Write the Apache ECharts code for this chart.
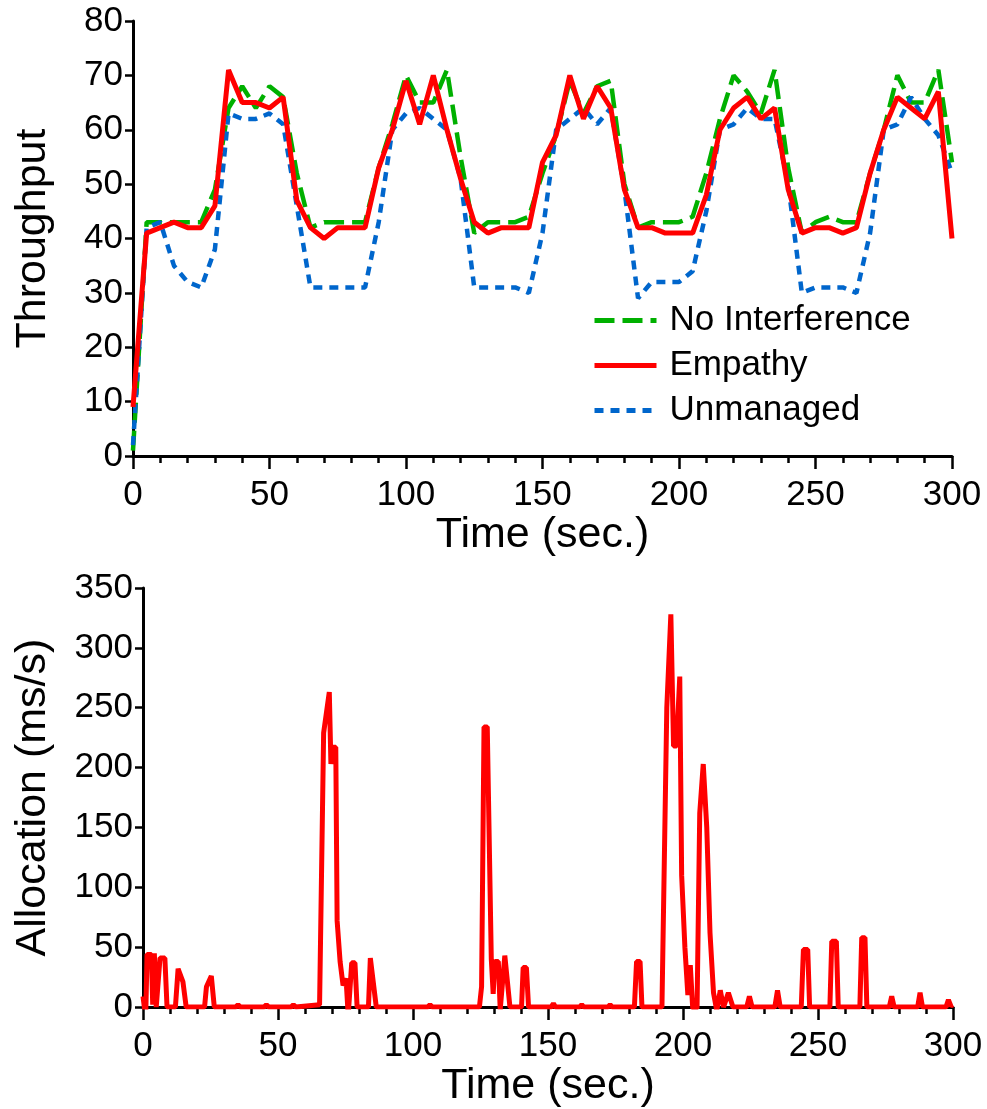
<!DOCTYPE html>
<html>
<head>
<meta charset="utf-8">
<script src="https://cdn.jsdelivr.net/npm/echarts@6/dist/echarts.min.js"></script>
<style>
  html, body { margin: 0; padding: 0; background: #fff; }
  #chart { width: 987px; height: 1109px; }
</style>
</head>
<body>
<div id="chart"></div>
<script>
// ---- Top chart: throughput (sampled every 5 s) ----
const topTimes = [0,5,10,15,20,25,30,35,40,45,50,55,60,65,70,75,80,85,90,95,100,105,110,115,120,125,130,135,140,145,150,155,160,165,170,175,180,185,190,195,200,205,210,215,220,225,230,235,240,245,250,255,260,265,270,275,280,285,290,295,300];
const noInterference = [1,43,43,43,43,43,49,64,68,64,68,66,52,42,43,43,43,43,53,61,70,65,65,71,55,41,43,43,43,44,52,59,69,63,68,69,50,42,43,43,43,44,52,62,70,67,63,71,53,41,43,44,43,43,52,60,70,65,65,71,54];
const empathy = [9,41,42,43,42,42,46,71,65,65,64,66,47,42,40,42,42,42,53,60,69,61,70,60,51,43,41,42,42,42,54,59,70,62,68,64,49,42,42,41,41,41,48,60,64,66,62,64,49,41,42,42,41,42,52,60,66,64,62,67,40];
const unmanaged = [2,42,43,35,32,31,38,63,62,62,63,61,46,31,31,31,31,31,43,60,63,64,62,60,51,31,31,31,31,30,41,60,62,64,61,64,49,29,32,32,32,34,45,60,61,64,62,62,50,30,31,31,31,30,41,60,61,66,62,59,52];

// ---- Bottom chart: allocation (irregular samples) ----
const allocTimes = [0,1,1.5,3.1,3.6,4.2,4.9,6.3,8.1,8.9,12,13,14.8,16,22.8,23.5,25.3,26.4,34.3,35.2,36.1,44.8,45.7,46.6,54.8,55.7,56.6,65.4,66.9,69,69.6,70.4,71.4,71.9,73,74.1,75.2,76,77.3,78.5,79.3,83.5,84.2,86.4,105.4,106.3,107.2,124.6,125.4,126.3,127.5,129,129.7,130.3,131.6,132.3,134,135.9,140.2,140.8,142,142.8,151.2,152,152.8,161.7,162.5,163.3,172.2,173,173.8,182,182.8,184.1,184.8,192.2,194,195.5,196.5,197.6,198.8,199.5,200.7,201.8,202.7,203.6,205.2,206.2,207.5,208.8,210,211.3,212.5,213.8,215,216.8,218.5,223.6,224.6,225.6,234,235,236,243.8,244.6,246.2,246.9,254.4,255.1,256.8,257.5,265.5,266.2,267.4,268.1,276.4,277.3,278.2,286.9,287.8,288.7,297.4,298.3,299.2,300];
const allocValues = [9,-9,44,44,2,45,0,41,41,0,0,32,21,0,0,17,26,0,0,2,0,0,2,0,0,2,0,2,229,263,203,217,217,72,38,18,24,-7,37,37,0,0,41,0,0,2,0,0,17,234,234,40,11,38,38,-2,43,0,0,33,33,0,0,3,0,0,2,0,0,2,0,0,38,38,0,0,250,328,218,218,276,110,50,10,35,-1,-1,162,203,150,62,12,-3,14,0,12,0,0,9,0,0,14,0,0,48,48,0,0,55,55,0,0,58,58,0,0,9,0,0,12,0,0,6,1,2];

// ---- Axis ticks ----
const xTicks = ['0','50','100','150','200','250','300'];
const topYTicks = ['0','10','20','30','40','50','60','70','80'];
const bottomYTicks = ['0','50','100','150','200','250','300','350'];

const seriesNames = ['No Interference', 'Empathy', 'Unmanaged'];

function pairs(xs, ys) { return xs.map((x, i) => [x, ys[i]]); }

const FONT = '"Liberation Sans", Arial, Helvetica, sans-serif';
const black = '#000';

function xAxisCfg(gridIndex) {
  return {
    type: 'value', gridIndex: gridIndex, min: 0, max: 300, interval: 50,
    name: 'Time (sec.)', nameLocation: 'middle', nameGap: 47,
    nameTextStyle: { fontSize: 43, fontFamily: FONT, color: black },
    axisLine: { show: true, onZero: false, lineStyle: { color: black, width: 3 } },
    axisTick: { show: true, inside: false, length: 13, lineStyle: { color: black, width: 2.5 } },
    minorTick: { show: true, splitNumber: 5, length: 7, lineStyle: { color: black, width: 2.5 } },
    splitLine: { show: false },
    axisLabel: { fontSize: 35, fontFamily: FONT, color: black, margin: 22,
      formatter: v => xTicks[xTicks.indexOf(String(v))] }
  };
}

function yAxisCfg(gridIndex, name, max, interval, ticks, gap) {
  return {
    type: 'value', gridIndex: gridIndex, min: 0, max: max, interval: interval,
    name: name, nameLocation: 'middle', nameGap: gap, nameRotate: 90,
    nameTextStyle: { fontSize: 43, fontFamily: FONT, color: black },
    axisLine: { show: true, lineStyle: { color: black, width: 3 } },
    axisTick: { show: true, inside: false, length: 8, lineStyle: { color: black, width: 2.5 } },
    splitLine: { show: false },
    axisLabel: { fontSize: 35, fontFamily: FONT, color: black, margin: 10,
      formatter: v => ticks[ticks.indexOf(String(v))] }
  };
}

const chart = echarts.init(document.getElementById('chart'), null, { renderer: 'canvas' });
chart.setOption({
  animation: false,
  backgroundColor: '#fff',
  grid: [
    { left: 133, right: 35, top: 21, height: 435 },
    { left: 143, right: 34, top: 588, height: 429 }
  ],
  xAxis: [xAxisCfg(0), xAxisCfg(1)],
  yAxis: [
    yAxisCfg(0, 'Throughput', 80, 10, topYTicks, 78),
    yAxisCfg(1, 'Allocation (ms/s)', 350, 50, bottomYTicks, 88)
  ],
  legend: {
    data: seriesNames,
    orient: 'vertical',
    left: 592, top: 303, padding: 0,
    itemWidth: 62, itemHeight: 14, itemGap: 10,
    itemStyle: { opacity: 0 },
    lineStyle: { width: 5 },
    textStyle: { fontSize: 35, fontFamily: FONT, color: black, padding: [0, 0, 0, 8] }
  },
  series: [
    { name: seriesNames[0], type: 'line', xAxisIndex: 0, yAxisIndex: 0, symbol: 'none', z: 2,
      data: pairs(topTimes, noInterference),
      lineStyle: { color: '#00B000', width: 4.5, type: [20, 8] }, itemStyle: { color: '#00B000' } },
    { name: seriesNames[1], type: 'line', xAxisIndex: 0, yAxisIndex: 0, symbol: 'none', z: 4,
      data: pairs(topTimes, empathy),
      lineStyle: { color: '#FF0000', width: 5 }, itemStyle: { color: '#FF0000' } },
    { name: seriesNames[2], type: 'line', xAxisIndex: 0, yAxisIndex: 0, symbol: 'none', z: 3,
      data: pairs(topTimes, unmanaged),
      lineStyle: { color: '#0066CC', width: 4.5, type: [9, 7] }, itemStyle: { color: '#0066CC' } },
    { name: 'Allocation', type: 'line', xAxisIndex: 1, yAxisIndex: 1, symbol: 'none',
      data: pairs(allocTimes, allocValues),
      lineStyle: { color: '#FF0000', width: 5 }, itemStyle: { color: '#FF0000' } }
  ]
});
</script>
</body>
</html>
